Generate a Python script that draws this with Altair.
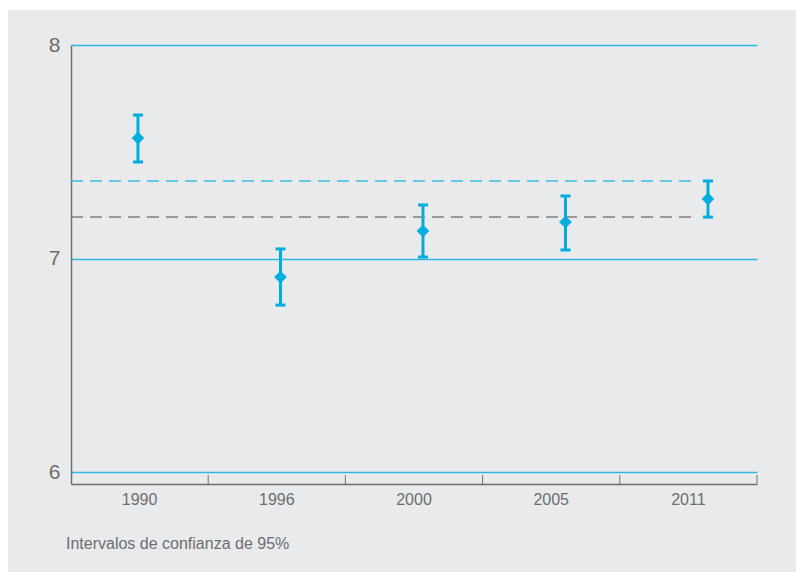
import altair as alt
import pandas as pd

# Survey waves and their mean scores with 95% confidence bounds
years = ["1990", "1996", "2000", "2005", "2011"]
means = [7.564, 6.913, 7.129, 7.171, 7.279]
ci_low = [7.452, 6.782, 7.007, 7.040, 7.194]
ci_high = [7.672, 7.045, 7.251, 7.293, 7.363]

# Horizontal reference levels (dashed)
ref_high = 7.363
ref_low = 7.194
ref_end = 3.92  # reference lines stop just before the last wave

footnote = "Intervalos de confianza de 95%"

W, H = 686, 439
PAD = {"left": 71, "top": 45, "right": 39, "bottom": 88}

BG = "#e9eaec"
CYAN = "#00aedd"
GRID_CYAN = "#2cb8e0"
DASH_CYAN = "#3cbade"
DASH_GRAY = "#7e7f82"
AXIS_GRAY = "#6d6e70"
FONT = "Liberation Sans"

df = pd.DataFrame({
    "year": years,
    "pos": list(range(len(years))),
    "mean": means,
    "lo": ci_low,
    "hi": ci_high,
})
refs = pd.DataFrame({"x0": [-0.47, -0.47], "x1": [ref_end, ref_end],
                     "level": [ref_high, ref_low], "kind": ["high", "low"]})

y_scale = alt.Scale(domain=[5.944, 8], nice=False, zero=False)
x_pos = alt.X("pos:Q", scale=alt.Scale(domain=[-0.47, 4.344], nice=False, zero=False),
              axis=None)

# white page margins around the grey panel
one = pd.DataFrame({"k": [0]})
margin_left = alt.Chart(one).mark_rect(color="white").encode(
    x=alt.value(-PAD["left"]), x2=alt.value(-PAD["left"] + 8),
    y=alt.value(-PAD["top"]), y2=alt.value(H + PAD["bottom"]))
margin_top = alt.Chart(one).mark_rect(color="white").encode(
    x=alt.value(-PAD["left"]), x2=alt.value(W + PAD["right"]),
    y=alt.value(-PAD["top"]), y2=alt.value(-PAD["top"] + 10))

# footnote under the axis
note = alt.Chart(one).mark_text(
    align="left", baseline="alphabetic", font=FONT, fontSize=16, color=AXIS_GRAY
).encode(x=alt.value(-5), y=alt.value(H + 65), text=alt.value(footnote))

# category axis with tick marks at the band boundaries, pointing inward
band_ticks = alt.Chart(df).mark_rule(color=AXIS_GRAY, strokeWidth=1).encode(
    x=alt.X("year:N", sort=years, bandPosition=1,
            scale=alt.Scale(type="band", paddingInner=0, paddingOuter=0),
            axis=alt.Axis(title=None, labelAngle=0, ticks=False, grid=False,
                          domain=True, domainColor=AXIS_GRAY, domainWidth=1.5,
                          labelFont=FONT, labelFontSize=16, labelColor=AXIS_GRAY,
                          labelPadding=7)),
    y=alt.value(H - 9), y2=alt.value(H))

ref_lines = alt.Chart(refs).mark_rule(strokeWidth=1.5, strokeDash=[12, 7]).encode(
    x=alt.X("x0:Q", scale=alt.Scale(domain=[-0.47, 4.344], nice=False, zero=False), axis=None),
    x2="x1:Q",
    y=alt.Y("level:Q", scale=y_scale,
            axis=alt.Axis(tickCount=2, title=None, ticks=False,
                          grid=True, gridColor=GRID_CYAN, gridWidth=1.5, gridOpacity=1,
                          domain=True, domainColor=AXIS_GRAY, domainWidth=1.5,
                          labelFont=FONT, labelFontSize=21, labelColor=AXIS_GRAY,
                          labelPadding=11, labelOverlap=False, format="d")),
    color=alt.Color("kind:N", scale=alt.Scale(domain=["high", "low"],
                                              range=[DASH_CYAN, DASH_GRAY]), legend=None),
)

bars = alt.Chart(df).mark_rule(color=CYAN, strokeWidth=3).encode(
    x=x_pos, y=alt.Y("lo:Q", scale=y_scale), y2="hi:Q")
cap_lo = alt.Chart(df).mark_tick(color=CYAN, orient="horizontal", size=10,
                                 thickness=3, opacity=1).encode(
    x=x_pos, y=alt.Y("lo:Q", scale=y_scale))
cap_hi = alt.Chart(df).mark_tick(color=CYAN, orient="horizontal", size=10,
                                 thickness=3, opacity=1).encode(
    x=x_pos, y=alt.Y("hi:Q", scale=y_scale))
dots = alt.Chart(df).mark_point(shape="diamond", filled=True, size=160,
                                color=CYAN, opacity=1).encode(
    x=x_pos, y=alt.Y("mean:Q", scale=y_scale))

points = alt.layer(ref_lines, bars, cap_lo, cap_hi, dots)

chart = alt.layer(
    margin_left, margin_top, note, band_ticks, points
).resolve_scale(x="independent").properties(
    width=W, height=H,
    autosize=alt.AutoSizeParams(type="none"),
    padding=PAD,
    background=BG,
).configure_view(stroke=None)

chart.save("out.html", embed_options={"renderer": "svg", "actions": False})
